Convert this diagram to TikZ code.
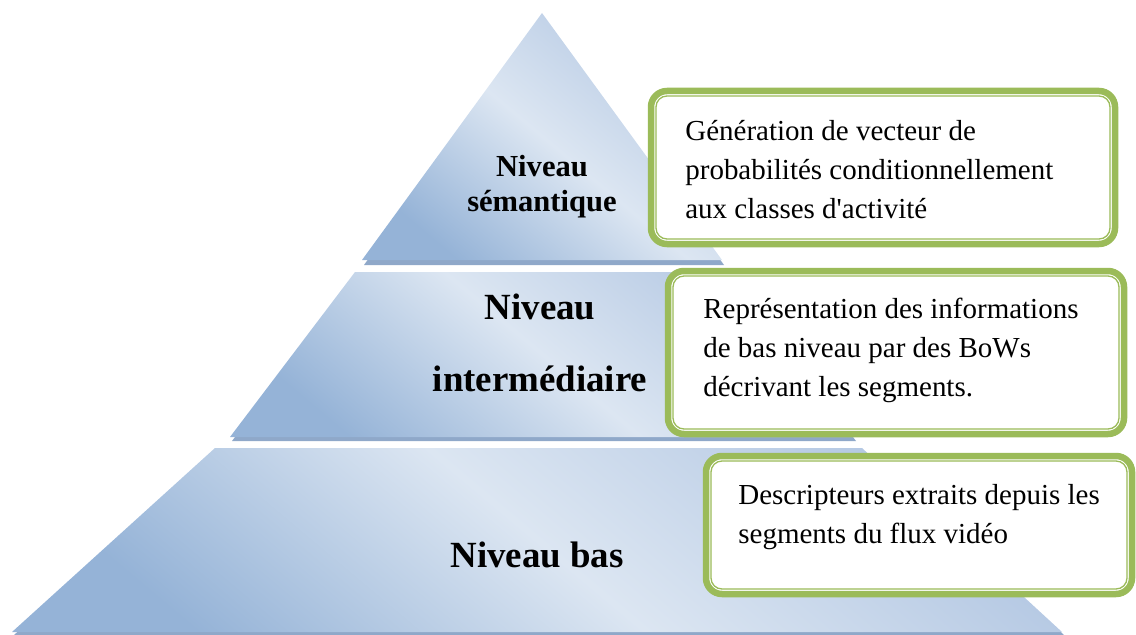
\documentclass[tikz,border=0pt]{standalone}
\usepackage{fontspec}
\setmainfont{Liberation Serif}
\definecolor{pyrlight}{HTML}{DCE6F2}
\definecolor{pyrmid}{HTML}{B4C8E3}
\definecolor{pyrdark}{HTML}{95B3D7}
\definecolor{pyrshadow}{HTML}{8FA8C9}
\definecolor{boxgreen}{HTML}{9BBB59}

\begin{document}
\begin{tikzpicture}[x=0.02cm,y=-0.02cm,
	layer/.style={bottom color=pyrdark,top color=pyrmid,middle color=pyrlight,shading angle=-40},
	layershadow/.style={fill=pyrshadow},
	outerframe/.style={draw=boxgreen,fill=white,line width=0.13cm,rounded corners=0.32cm},
	innerframe/.style={draw=boxgreen,line width=0.026cm,rounded corners=0.22cm},
	levellabel/.style={font=\bfseries\fontsize{21}{41}\selectfont,align=center,inner sep=0},
	desc/.style={font=\fontsize{16.5}{22}\selectfont,align=left,anchor=base west,inner sep=0}]
		\useasboundingbox (0,0) rectangle (1136,635);
		\fill[layershadow] (543,17) -- (724,265) -- (364,265) -- cycle;
		\shade[layer] (542,13) -- (722,260) -- (362,260) -- cycle;
		\fill[layershadow] (357,276) -- (731,276) -- (856,441) -- (232,441) -- cycle;
		\shade[layer] (355,272) -- (729,272) -- (854,437) -- (230,437) -- cycle;
		\fill[layershadow] (217,452) -- (864,452) -- (1064,635) -- (14,635) -- cycle;
		\shade[layer] (215,448) -- (862,448) -- (1062,632) -- (12,632) -- cycle;
		\node[levellabel,font=\bfseries\fontsize{17.4}{19.8}\selectfont] (semantique) at (542,187) {Niveau\\s\'emantique};
		\node[levellabel] (intermediaire) at (540,343) {Niveau\\interm\'ediaire};
		\node[levellabel] (bas) at (537,555) {Niveau bas};
		\draw[outerframe] (651,91) rectangle (1115,244);
		\draw[innerframe] (656,96) rectangle (1110,239);
		\node[desc] (generation) at (685,218) {G\'en\'eration de vecteur de\\probabilit\'es conditionnellement\\aux classes d\textquotesingle activit\'e};
		\draw[outerframe] (668,271) rectangle (1124,434);
		\draw[innerframe] (673,276) rectangle (1119,429);
		\node[desc] (representation) at (703,396) {Repr\'esentation des informations\\de bas niveau par des BoWs\\d\'ecrivant les segments.};
		\draw[outerframe] (706,456) rectangle (1132,594);
		\draw[innerframe] (711,461) rectangle (1127,589);
		\node[desc] (descripteurs) at (738,543) {Descripteurs extraits depuis les\\segments du flux vid\'eo};
	\end{tikzpicture}
\end{document}
